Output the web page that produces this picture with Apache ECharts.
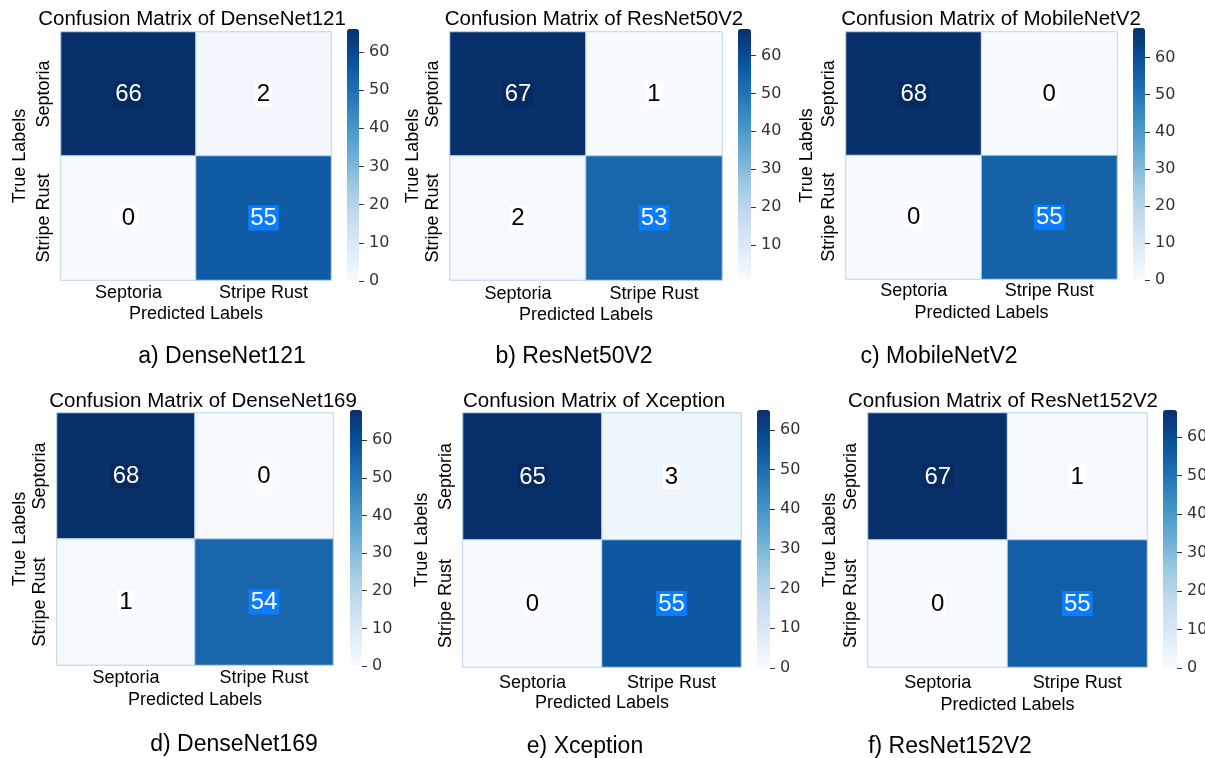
<!DOCTYPE html>
<html>
<head>
<meta charset="utf-8">
<script src="https://cdn.jsdelivr.net/npm/echarts@6/dist/echarts.min.js"></script>
<style>
  html, body { margin: 0; padding: 0; background: #ffffff; }
  #chart { width: 1205px; height: 758px; }
</style>
</head>
<body>
<div id="chart"></div>
<script>
// Class names shared by all six confusion matrices
const classes = ['Septoria', 'Stripe Rust'];

// Model names (panel titles and captions)
const models = ['DenseNet121', 'ResNet50V2', 'MobileNetV2', 'DenseNet169', 'Xception', 'ResNet152V2'];
const captionLetters = ['a)', 'b)', 'c)', 'd)', 'e)', 'f)'];

// Confusion matrices: rows = true label, columns = predicted label
const cmDenseNet121 = [[66, 2], [0, 55]];
const cmResNet50V2 = [[67, 1], [2, 53]];
const cmMobileNetV2 = [[68, 0], [0, 55]];
const cmDenseNet169 = [[68, 0], [1, 54]];
const cmXception = [[65, 3], [0, 55]];
const cmResNet152V2 = [[67, 1], [0, 55]];
const matrices = [cmDenseNet121, cmResNet50V2, cmMobileNetV2, cmDenseNet169, cmXception, cmResNet152V2];

// Colour bar tick values
const colorbarTicks = [0, 10, 20, 30, 40, 50, 60];

// Matplotlib "Blues" colour map
const blues = ['#f7fbff', '#deebf7', '#c6dbef', '#9ecae1', '#6baed6', '#4292c6', '#2171b5', '#08519c', '#08306b'];

// Panel geometry (pixels): heatmap box, colour bar box, text positions
const layout = [
  { g: [61, 32, 270, 248],  cb: [347, 29, 12, 252],  title: [192, 19],  cap: [222, 357], yName: 32, xName: 25, xMargin: 4 },
  { g: [450, 32, 272, 248], cb: [738, 29, 13, 250],  title: [594, 19],  cap: [574, 357], yName: 28, xName: 26, xMargin: 5 },
  { g: [846, 32, 271, 247], cb: [1133, 28, 12, 252], title: [991, 19],  cap: [939, 357], yName: 30, xName: 25, xMargin: 3 },
  { g: [57, 413, 276, 252], cb: [350, 410, 12, 256], title: [203, 401], cap: [234, 745], yName: 28, xName: 26, xMargin: 4 },
  { g: [463, 413, 278, 254], cb: [757, 410, 13, 258], title: [594, 401], cap: [585, 747], yName: 32, xName: 27, xMargin: 7 },
  { g: [868, 413, 279, 254], cb: [1163, 410, 14, 258], title: [1003, 401], cap: [950, 747], yName: 29, xName: 29, xMargin: 7 }
];

const FONT = "'Liberation Sans', Arial, Helvetica, sans-serif";

const grid = [], xAxis = [], yAxis = [], series = [], visualMap = [], title = [];

matrices.forEach((m, i) => {
  const L = layout[i];
  const flat = m.flat();
  const vmin = Math.min(...flat);
  const vmax = Math.max(...flat);
  const ticks = colorbarTicks.filter(t => t >= vmin && t <= vmax);

  // heatmap grid
  grid.push({ left: L.g[0], top: L.g[1], width: L.g[2], height: L.g[3], containLabel: false });
  // colour-bar tick strip, starting at the bar's right edge
  grid.push({ left: L.cb[0] + L.cb[2], top: L.cb[1], width: 30, height: L.cb[3], containLabel: false });

  const gHeat = 2 * i, gBar = 2 * i + 1;

  xAxis.push({
    gridIndex: gHeat, type: 'category', data: classes, position: 'bottom',
    axisLine: { show: false }, axisTick: { show: false }, splitLine: { show: false },
    axisLabel: { fontFamily: FONT, fontSize: 18, color: '#000', margin: L.xMargin },
    name: 'Predicted Labels', nameLocation: 'middle', nameGap: L.xName,
    nameTextStyle: { fontFamily: FONT, fontSize: 18, color: '#000' }
  });
  yAxis.push({
    gridIndex: gHeat, type: 'category', data: classes, inverse: true,
    axisLine: { show: false }, axisTick: { show: false }, splitLine: { show: false },
    axisLabel: { fontFamily: FONT, fontSize: 18, color: '#000', rotate: 90, margin: 8 },
    name: 'True Labels', nameLocation: 'middle', nameGap: L.yName,
    nameTextStyle: { fontFamily: FONT, fontSize: 18, color: '#000' }
  });

  xAxis.push({ gridIndex: gBar, type: 'value', show: false, min: 0, max: 1 });
  yAxis.push({
    gridIndex: gBar, type: 'value', position: 'left', min: vmin, max: vmax, z: 10,
    axisLine: { show: false },
    splitLine: { show: false },
    axisTick: { show: true, inside: true, length: 5, lineStyle: { color: '#333', width: 1 }, customValues: ticks },
    axisLabel: { inside: true, fontFamily: "'DejaVu Sans', sans-serif", fontSize: 16, color: '#333', margin: 10, customValues: ticks }
  });

  const data = [];
  m.forEach((row, r) => row.forEach((v, c) => data.push([c, r, v])));

  const labelBase = { fontFamily: FONT, fontSize: 24, padding: [1, 2, 0, 2], textBorderWidth: 0, textShadowBlur: 0 };
  series.push({
    type: 'heatmap', xAxisIndex: 2 * i, yAxisIndex: 2 * i, data: data,
    itemStyle: { borderColor: '#bcd2ea', borderWidth: 1 },
    emphasis: { disabled: true },
    label: {
      show: true, textBorderWidth: 0,
      formatter: p => {
        const v = p.value[2];
        const k = v >= 60 ? 'dk' : (v >= 40 ? 'md' : 'lt');
        return '{' + k + '|' + v + '}';
      },
      rich: {
        dk: Object.assign({ color: '#ffffff', backgroundColor: '#072b5e' }, labelBase),
        md: Object.assign({ color: '#ffffff', backgroundColor: '#0a7cff' }, labelBase),
        lt: Object.assign({ color: '#000000', backgroundColor: '#ffffff' }, labelBase)
      }
    }
  });

  visualMap.push({
    type: 'continuous', seriesIndex: i, min: vmin, max: vmax,
    calculable: false, realtime: false, hoverLink: false,
    left: L.cb[0], top: L.cb[1], itemWidth: L.cb[2], itemHeight: L.cb[3],
    padding: 0, text: null, showLabel: false, z: 1,
    inRange: { color: blues }
  });

  title.push({
    text: 'Confusion Matrix of ' + models[i],
    left: L.title[0], top: L.title[1], padding: 0,
    textAlign: 'center', textVerticalAlign: 'middle',
    textStyle: { fontFamily: FONT, fontSize: 20.5, fontWeight: 'normal', color: '#000' }
  });
  title.push({
    text: captionLetters[i] + ' ' + models[i],
    left: L.cap[0], top: L.cap[1], padding: 0,
    textAlign: 'center', textVerticalAlign: 'middle',
    textStyle: { fontFamily: FONT, fontSize: 23, fontWeight: 'normal', color: '#000' }
  });
});

const chart = echarts.init(document.getElementById('chart'), null, { renderer: 'canvas' });
chart.setOption({
  animation: false,
  backgroundColor: '#ffffff',
  title, grid, xAxis, yAxis, visualMap, series
});
</script>
</body>
</html>
